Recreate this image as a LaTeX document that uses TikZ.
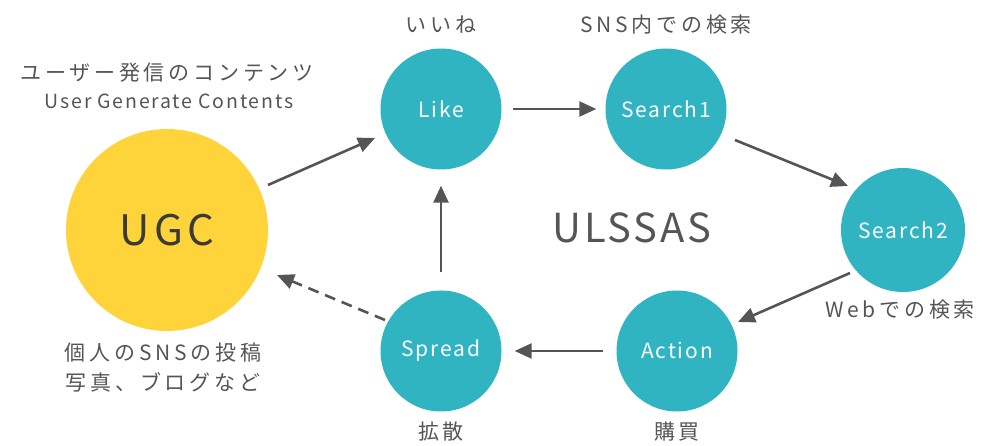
\documentclass[tikz,border=0pt]{standalone}
\usepackage{fontspec}
\setmainfont{Noto Sans CJK JP}
\usetikzlibrary{arrows.meta}
\definecolor{teal1}{HTML}{31B4C2}
\definecolor{ugcy}{HTML}{FFD43B}
\definecolor{dgray}{HTML}{555555}
\definecolor{ugctext}{HTML}{3A3A3A}
\tikzset{
  stage/.style={circle, fill=teal1, minimum size=121pt, inner sep=0pt, text=white, font=\fontsize{21}{24}\selectfont\addfontfeature{LetterSpace=9}},
  ugcnode/.style={circle, fill=ugcy, minimum size=202pt, inner sep=0pt, text=ugctext, font=\fontsize{42}{44}\selectfont\addfontfeature{LetterSpace=10}},
  lbl/.style={text=dgray, font=\fontsize{21}{24}\selectfont\addfontfeature{LetterSpace=18}, inner sep=0pt},
  conn/.style={draw=dgray, line width=2.6pt, -{Triangle[length=17pt,width=15pt]}},
  dconn/.style={conn, dash pattern=on 11pt off 7pt}
}
\begin{document}
\begin{tikzpicture}[x=1pt,y=-1pt]
\useasboundingbox (0,0) rectangle (989,446);
\node[ugcnode] (ugc) at (167,230) {UGC};
\node[stage] (like) at (441,109) {Like};
\node[stage] (s1) at (666,109) {Search1};
\node[stage, minimum size=124pt] (s2) at (903,230) {Search2};
\node[stage] (act) at (677,351) {Action};
\node[stage] (spr) at (441,351) {Spread};
\node[text=dgray, font=\fontsize{40}{42}\selectfont\addfontfeature{LetterSpace=7}] (ul) at (632,228) {ULSSAS};
\node[lbl] (l1) at (441,25) {いいね};
\node[lbl] (l2) at (666,25) {SNS内での検索};
\node[lbl] (l3) at (900,310) {Webでの検索};
\node[lbl] (l4) at (677,432) {購買};
\node[lbl] (l5) at (441,432) {拡散};
\node[lbl] (u1) at (167,73) {ユーザー発信のコンテンツ};
\node[lbl, font=\fontsize{19.5}{22}\selectfont\addfontfeature{LetterSpace=9}] (u2) at (169,101) {User Generate Contents};
\node[lbl] (u3) at (163,353) {個人のSNSの投稿};
\node[lbl] (u4) at (163,382) {写真、ブログなど};
\coordinate (a1) at (268,185);
\coordinate (a2) at (375,138);
\coordinate (b1) at (735,140);
\coordinate (b2) at (848,186);
\coordinate (c1) at (850,273);
\coordinate (c2) at (738,322);
\coordinate (d1) at (385,320);
\coordinate (d2) at (277,275);
\draw[conn] (a1) -- (a2);
\draw[conn] ([xshift=11pt]like.east) -- ([xshift=-9pt]s1.west);
\draw[conn] (b1) -- (b2);
\draw[conn] (c1) -- (c2);
\draw[conn] ([xshift=-13pt]act.west) -- ([xshift=13pt]spr.east);
\draw[conn] ([yshift=18pt]spr.north) -- ([yshift=-16pt]like.south);
\draw[dconn] (d1) -- (d2);
\end{tikzpicture}
\end{document}
